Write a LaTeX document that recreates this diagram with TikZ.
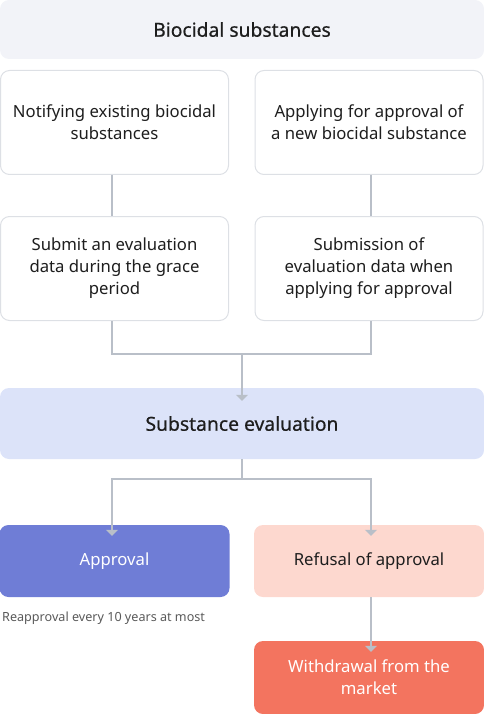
\documentclass[tikz,border=0pt]{standalone}
\usepackage{fontspec}
\setmainfont{Noto Sans}
\usetikzlibrary{arrows.meta}
\definecolor{lineg}{HTML}{B9BFC8}
\definecolor{boxborder}{HTML}{DDE0E5}
\definecolor{topfill}{HTML}{F2F3F8}
\definecolor{evalfill}{HTML}{DCE3F9}
\definecolor{apprfill}{HTML}{6F7DD6}
\definecolor{refusefill}{HTML}{FDD8CF}
\definecolor{withfill}{HTML}{F3745F}
\definecolor{txt}{HTML}{1E1E1E}
\begin{document}
\begin{tikzpicture}[x=1pt,y=-1pt,
  base/.style={rounded corners=9pt, align=center, text=txt, inner sep=0pt},
  wbox/.style={base, draw=boxborder, line width=1pt, fill=white, minimum width=228pt, minimum height=104pt, font=\fontsize{16.7}{22}\selectfont},
  cbox/.style={base, minimum width=230pt, minimum height=72pt, font=\fontsize{16.7}{22}\selectfont},
  conn/.style={draw=lineg, line width=2pt},
  arr/.style={conn, -{Triangle[width=12pt,length=6pt]}},
  titlefont/.style={font=\fontsize{19.3}{22}\selectfont\addfontfeature{FakeBold=0.6}}
]
\useasboundingbox (0,0) rectangle (484,714);
\node[base, fill=topfill, minimum width=484pt, minimum height=59pt, titlefont] (top) at (242,29.5) {Biocidal substances};
\node[wbox] (a) at (114.5,122.5) {Notifying existing biocidal\\substances};
\node[wbox] (b) at (369,122.5) {Applying for approval of\\a new biocidal substance};
\node[wbox] (c) at (114.5,268.5) {Submit an evaluation\\data during the grace\\period};
\node[wbox] (d) at (369,268.5) {Submission of\\evaluation data when\\applying for approval};
\node[base, fill=evalfill, minimum width=484pt, minimum height=71pt, titlefont] (eval) at (242,423.5) {Substance evaluation};
\node[cbox, fill=apprfill, text=white] (appr) at (114.5,561) {Approval};
\node[cbox, fill=refusefill] (ref) at (369,561) {Refusal of approval};
\node[cbox, fill=withfill, text=white, minimum height=73pt] (with) at (369,677.5) {Withdrawal from the\\market};
\node[anchor=west, inner sep=0pt, text=black!65, font=\fontsize{12.6}{15}\selectfont] (note) at (2,618) {Reapproval every 10 years at most};

\coordinate (j1) at (242,354);
\coordinate (j2) at (242,479);
\draw[conn] (a.south -| 112,0) -- (c.north -| 112,0);
\draw[conn] (b.south -| 371,0) -- (d.north -| 371,0);
\draw[conn] (c.south -| 112,0) |- (j1) -| (d.south -| 371,0);
\draw[arr] (j1) -- ([yshift=-13pt]eval.north);
\draw[conn] (eval.south) -- (j2);
\draw[arr] (j2) -| ([yshift=-11pt]appr.north -| 112,0);
\draw[arr] (j2) -| ([yshift=-11pt]ref.north -| 371,0);
\draw[arr] (ref.south -| 371,0) -- ([yshift=-11pt]with.north -| 371,0);
\end{tikzpicture}
\end{document}
